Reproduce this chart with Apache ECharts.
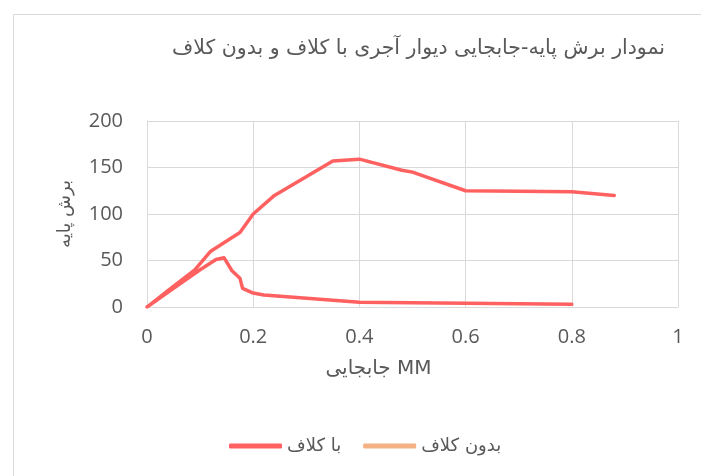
<!DOCTYPE html>
<html>
<head>
<meta charset="utf-8">
<script src="https://cdn.jsdelivr.net/npm/echarts@6/dist/echarts.min.js"></script>
<style>
html,body{margin:0;padding:0;background:#fff;}
#main{width:701px;height:476px;}
</style>
</head>
<body>
<div id="main"></div>
<script>
var titleText = 'نمودار برش پایه-جابجایی دیوار آجری با کلاف و بدون کلاف';
var xAxisName = 'جابجایی MM';
var yAxisName = 'برش پایه';
var seriesNames = ['با کلاف', 'بدون کلاف'];

// series "با کلاف": lower branch (traced back to origin) then upper branch
var withFrameX = [0.8, 0.6, 0.4, 0.22, 0.2, 0.18, 0.175, 0.16, 0.145, 0.13, 0.1, 0.05, 0,
                  0.04, 0.09, 0.12, 0.175, 0.2, 0.24, 0.35, 0.4, 0.48, 0.5, 0.6, 0.8, 0.88];
var withFrameY = [3, 4, 5, 13, 15, 20, 31, 39, 53, 51, 40, 20, 0,
                  18, 40, 60, 80, 100, 120, 157, 159, 147, 145, 125, 124, 120];
// series "بدون کلاف": not drawn in the reference
var withoutFrameX = [];
var withoutFrameY = [];

var xTicks = [0, 0.2, 0.4, 0.6, 0.8, 1];
var yTicks = [0, 50, 100, 150, 200];

function zip(xs, ys){ return xs.map(function(x,i){ return [x, ys[i]]; }); }

var chart = echarts.init(document.getElementById('main'));
var txt = '#595959';
var ff = "'DejaVu Sans', 'Open Sans', sans-serif";
chart.setOption({
  animation: false,
  backgroundColor: '#fff',
  textStyle: {fontFamily: ff},
  graphic: [{
    type: 'rect', left: 11, top: 12, shape: {width: 720, height: 500},
    style: {fill: 'none', stroke: '#d9d9d9', lineWidth: 1}, silent: true
  }],
  title: {
    text: titleText, right: 31, top: 33,
    textStyle: {color: txt, fontSize: 20.5, fontWeight: 'normal', fontFamily: ff}
  },
  legend: {
    bottom: 16, left: 224, itemGap: 22,
    icon: 'roundRect', itemWidth: 53, itemHeight: 5,
    textStyle: {color: txt, fontSize: 18, fontFamily: ff},
    data: seriesNames
  },
  grid: {left: 147, right: 23, top: 121, bottom: 169},
  xAxis: {
    type: 'value', min: xTicks[0], max: xTicks[xTicks.length-1], interval: 0.2,
    name: xAxisName, nameLocation: 'middle', nameGap: 52,
    nameTextStyle: {color: txt, fontSize: 20, fontFamily: ff, padding: [0, 68, 0, 0]},
    axisLine: {show: true, lineStyle: {color: '#d9d9d9'}},
    axisTick: {show: false},
    axisLabel: {color: txt, fontSize: 20, margin: 20, fontFamily: "'Open Sans', sans-serif"},
    splitLine: {show: true, lineStyle: {color: '#d9d9d9', width: 1}}
  },
  yAxis: {
    type: 'value', min: yTicks[0], max: yTicks[yTicks.length-1], interval: 50,
    name: yAxisName, nameLocation: 'middle', nameGap: 73, nameRotate: 90,
    nameTextStyle: {color: txt, fontSize: 18, fontFamily: ff},
    axisLine: {show: true, lineStyle: {color: '#d9d9d9'}},
    axisTick: {show: false},
    axisLabel: {color: txt, fontSize: 20, margin: 24, fontFamily: "'Open Sans', sans-serif"},
    splitLine: {show: true, lineStyle: {color: '#d9d9d9', width: 1}}
  },
  series: [{
    name: seriesNames[0], type: 'line', showSymbol: false, symbol: 'none',
    data: zip(withFrameX, withFrameY),
    lineStyle: {color: '#ff6161', width: 3.5, cap: 'round', join: 'round'},
    itemStyle: {color: '#ff6161'}
  }, {
    name: seriesNames[1], type: 'line', showSymbol: false, symbol: 'none',
    data: zip(withoutFrameX, withoutFrameY),
    lineStyle: {color: '#f4b183', width: 3.5},
    itemStyle: {color: '#f4b183'}
  }]
});
</script>
</body>
</html>
